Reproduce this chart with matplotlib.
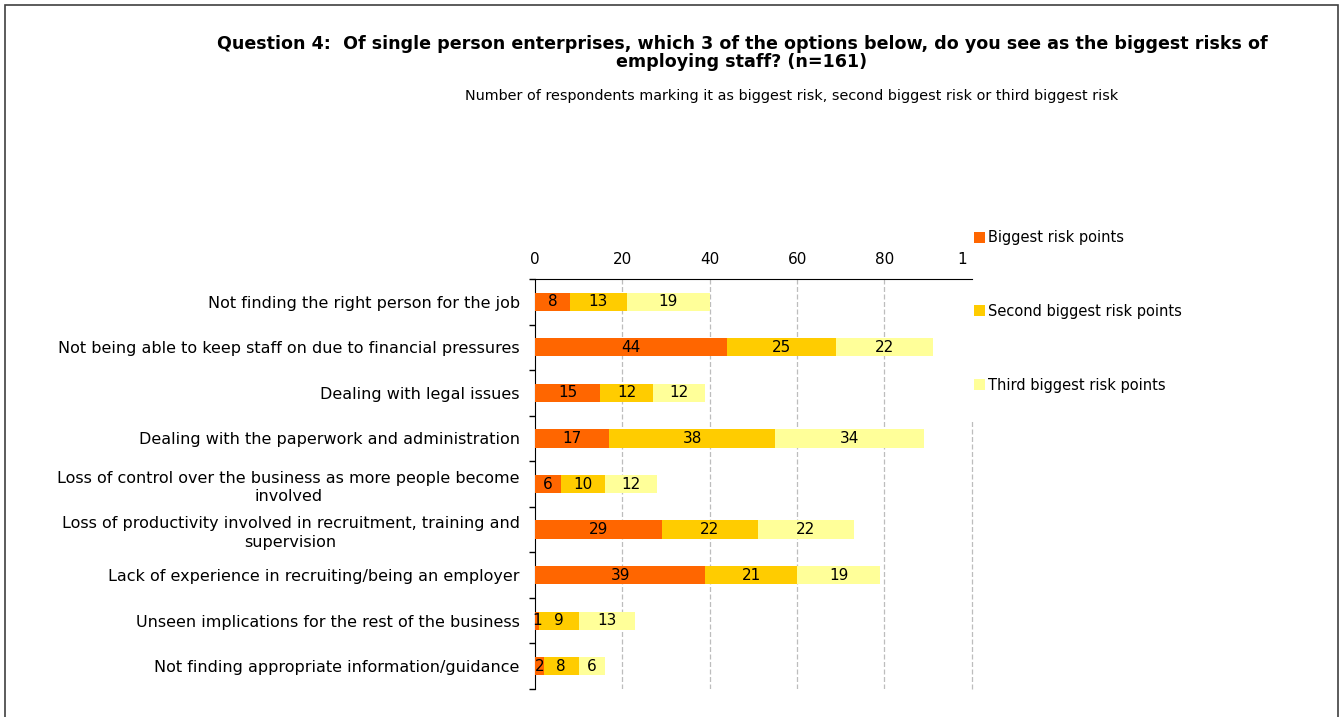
import matplotlib.pyplot as plt
import matplotlib.patches as mpatches
from matplotlib.transforms import Bbox, TransformedBbox
import numpy as np

categories = [
    "Not finding the right person for the job",
    "Not being able to keep staff on due to financial pressures",
    "Dealing with legal issues",
    "Dealing with the paperwork and administration",
    "Loss of control over the business as more people become\ninvolved",
    "Loss of productivity involved in recruitment, training and\nsupervision",
    "Lack of experience in recruiting/being an employer",
    "Unseen implications for the rest of the business",
    "Not finding appropriate information/guidance",
]
biggest = [8, 44, 15, 17, 6, 29, 39, 1, 2]
second = [13, 25, 12, 38, 10, 22, 21, 9, 8]
third = [19, 22, 12, 34, 12, 22, 19, 13, 6]
series_names = ["Biggest risk points", "Second biggest risk points", "Third biggest risk points"]
colors = ["#FF6600", "#FFCC00", "#FFFF99"]
xticks = [0, 20, 40, 60, 80, 100]

plt.rcParams["font.family"] = "DejaVu Sans"

fig = plt.figure(figsize=(13.44, 7.17), dpi=100)
ax = fig.add_axes([0.398, 0.039, 0.3251, 0.5718])

y = np.arange(len(categories))
left = np.zeros(len(categories))
for vals, name, col in zip([biggest, second, third], series_names, colors):
    bars = ax.barh(y, vals, left=left, height=0.4, color=col, label=name, zorder=3)
    ax.bar_label(bars, labels=[str(v) for v in vals], label_type="center", fontsize=11, zorder=4)
    left += np.array(vals)

ax.set_xlim(0, 100)
ax.set_ylim(len(categories) - 0.5, -0.5)

# grid lines
for xv in xticks[1:-1]:
    ax.axvline(xv, color="#BDBDBD", lw=0.9, ls=(0, (4, 2)), zorder=1)
ax.axvline(100, ymin=0, ymax=0.656, color="#BDBDBD", lw=0.9, ls=(0, (4, 2)),
           zorder=1, clip_on=False)

ax.xaxis.tick_top()
ax.set_xticks(xticks)
ax.set_xticklabels([str(v) for v in xticks], fontsize=11)
ax.tick_params(axis="x", length=0, pad=9)

ax.set_yticks(y)
ax.set_yticklabels(categories, fontsize=11.5, multialignment="center", linespacing=1.3)
ax.set_yticks(np.arange(-0.5, len(categories), 1), minor=True)
ax.tick_params(axis="y", which="major", length=0, pad=11)
ax.tick_params(axis="y", which="minor", length=4, width=1, color="black")

for s in ["right", "bottom"]:
    ax.spines[s].set_visible(False)
ax.spines["top"].set_color("black")
ax.spines["left"].set_color("black")

# clip the "100" label like the original
clip = TransformedBbox(Bbox([[0, 0], [0.7195, 1]]), fig.transFigure)
for lbl in ax.get_xticklabels():
    lbl.set_clip_on(True)
    lbl.set_clip_box(clip)

leg = fig.legend(loc="upper left", bbox_to_anchor=(0.719, 0.689), frameon=False,
                 fontsize=10.5, handlelength=0.75, handleheight=0.75, handletextpad=0.25,
                 labelspacing=4.02, borderpad=0)

fig.text(0.552, 0.926,
         "Question 4:  Of single person enterprises, which 3 of the options below, do you see as the biggest risks of\nemploying staff? (n=161)",
         ha="center", va="center", fontsize=12.6, fontweight="bold", linespacing=1.05)
fig.text(0.589, 0.866,
         "Number of respondents marking it as biggest risk, second biggest risk or third biggest risk",
         ha="center", va="center", fontsize=10.4)

border = mpatches.Rectangle((5 / 1344, -0.05), 1333 / 1344, 1 - 5 / 717 + 0.05,
                            transform=fig.transFigure, fill=False, edgecolor="#404040", lw=1.2)
fig.patches.append(border)

fig.savefig("out.png", dpi=100)
